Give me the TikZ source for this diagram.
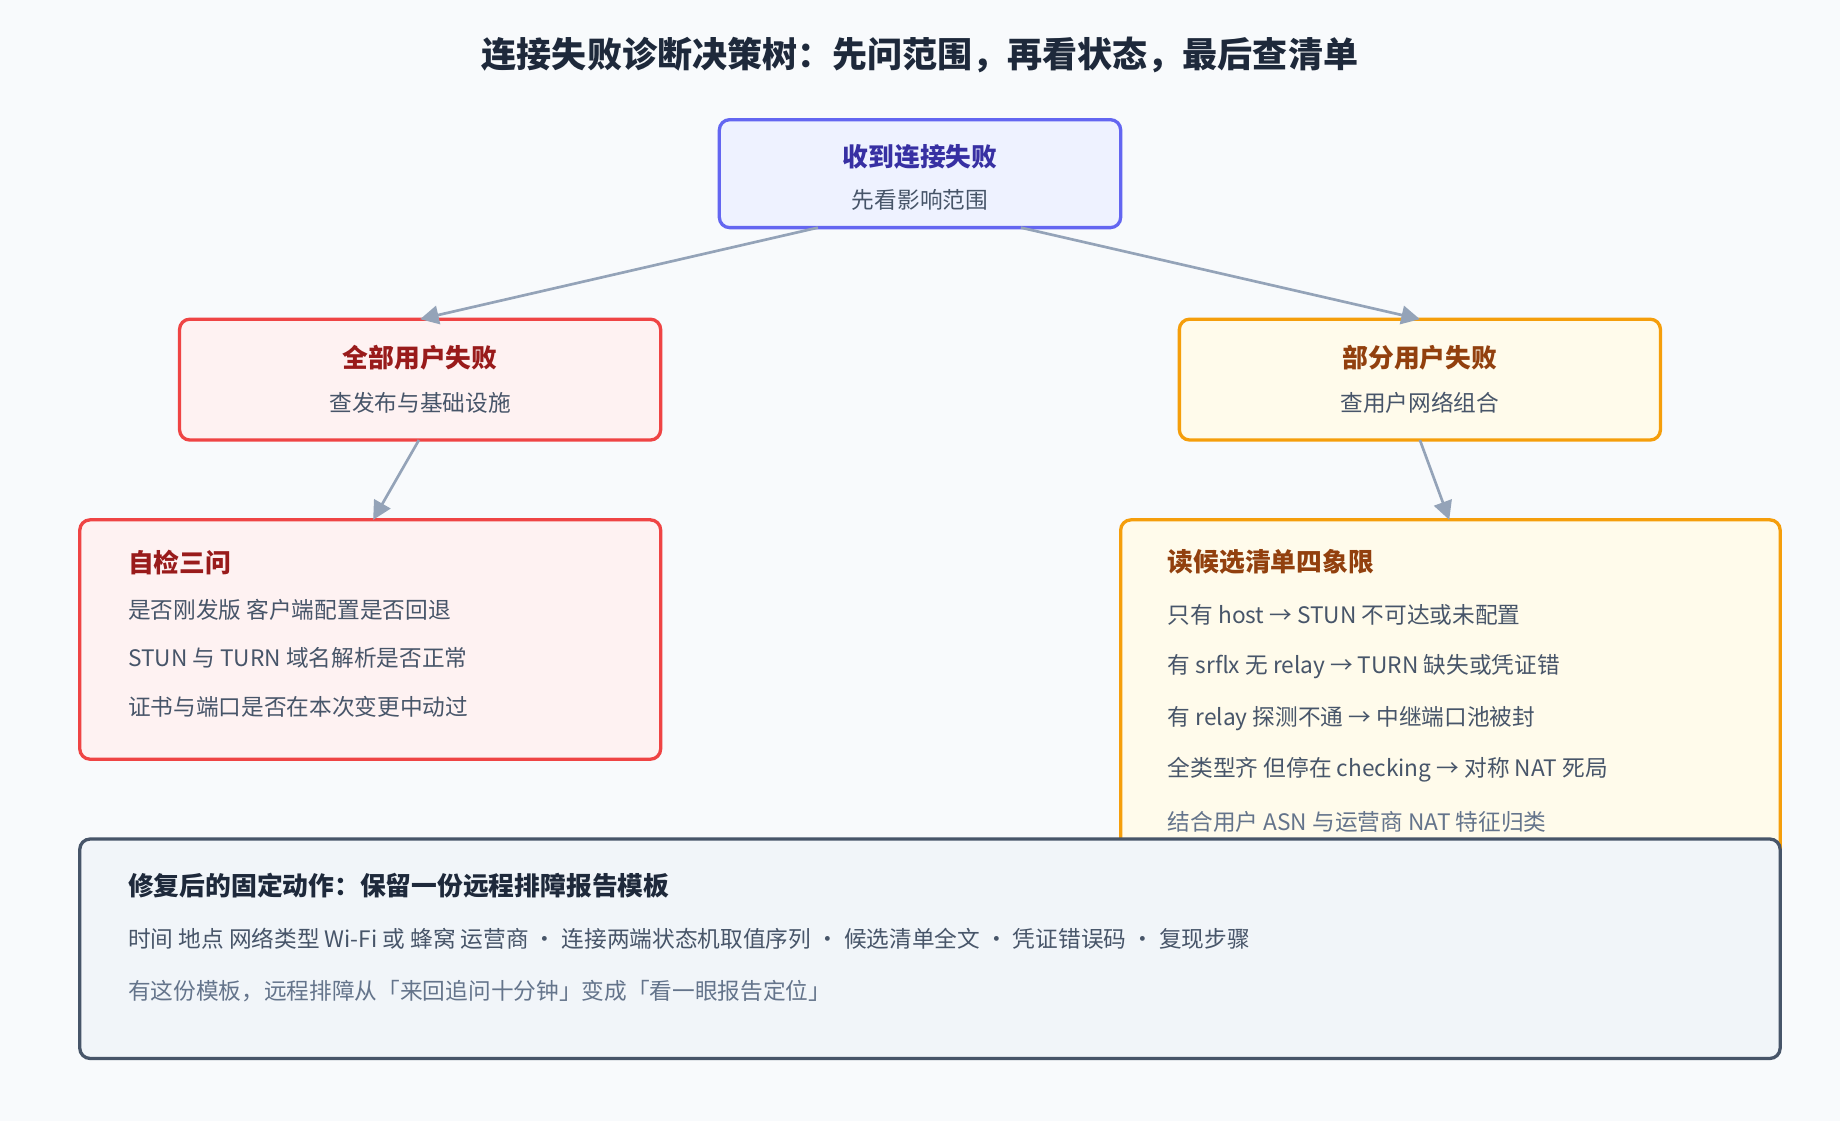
\documentclass[tikz,border=0pt]{standalone}
\usepackage{fontspec}
\setmainfont{Noto Sans CJK SC}
\usetikzlibrary{arrows.meta,positioning}
\definecolor{hintergrund}{HTML}{F8FAFC}
\definecolor{titelfarbe}{HTML}{1E293B}
\definecolor{textgrau}{HTML}{475569}
\definecolor{hellgrau}{HTML}{64748B}
\definecolor{pfeilgrau}{HTML}{94A3B8}
\definecolor{indigo}{HTML}{6366F1}
\definecolor{indigofill}{HTML}{EEF2FF}
\definecolor{indigotext}{HTML}{3730A3}
\definecolor{rot}{HTML}{EF4444}
\definecolor{rotfill}{HTML}{FEF2F2}
\definecolor{dunkelrot}{HTML}{991B1B}
\definecolor{orange}{HTML}{F59E0B}
\definecolor{orangefill}{HTML}{FFFBEB}
\definecolor{braun}{HTML}{92400E}
\definecolor{schiefer}{HTML}{475569}
\definecolor{schieferfill}{HTML}{F1F5F9}
\tikzset{
  kasten/.style={rounded corners=5pt, line width=1.6pt},
  kopf/.style={font=\bfseries\fontsize{12.5}{14}\selectfont, anchor=center},
  unter/.style={text=textgrau, font=\fontsize{11}{13}\selectfont, anchor=center},
  zeile/.style={text=textgrau, font=\fontsize{11}{13}\selectfont, anchor=west},
  pfeil/.style={pfeilgrau, line width=1.3pt, -{Triangle[length=9pt,width=9pt]}}
}
\begin{document}
\begin{tikzpicture}[x=0.02cm, y=-0.02cm]
    % Hintergrund
    \fill[hintergrund] (0,0) rectangle (1568,955);
    \useasboundingbox (0,0) rectangle (1568,955);

    % Titel
    \node[text=titelfarbe, font=\bfseries\fontsize{17}{20}\selectfont] (titel) at (784,47) {连接失败诊断决策树：先问范围，再看状态，最后查清单};

    % Wurzel
    \draw[kasten, draw=indigo, fill=indigofill] (613,102) rectangle (955,194);
    \node[kopf, text=indigotext] (wurzel) at (784,134) {收到连接失败};
    \node[unter] (wurzelsub) at (784,170) {先看影响范围};

    % Zweite Ebene
    \draw[kasten, draw=rot, fill=rotfill] (153,272) rectangle (563,375);
    \node[kopf, text=dunkelrot] (alle) at (358,305) {全部用户失败};
    \node[unter] (allesub) at (358,343) {查发布与基础设施};

    \draw[kasten, draw=orange, fill=orangefill] (1005,272) rectangle (1415,375);
    \node[kopf, text=braun] (teil) at (1210,305) {部分用户失败};
    \node[unter] (teilsub) at (1210,343) {查用户网络组合};

    % Details links
    \draw[kasten, draw=rot, fill=rotfill] (68,443) rectangle (563,647);
    \node[kopf, text=dunkelrot, anchor=west] (selbst) at (103,479) {自检三问};
    \node[zeile] (s1) at (103,520) {是否刚发版 客户端配置是否回退};
    \node[zeile] (s2) at (103,561) {STUN 与 TURN 域名解析是否正常};
    \node[zeile] (s3) at (103,602) {证书与端口是否在本次变更中动过};

    % Details rechts
    \draw[kasten, draw=orange, fill=orangefill] (955,443) rectangle (1517,760);
    \node[kopf, text=braun, anchor=west] (liste) at (989,479) {读候选清单四象限};
    \node[zeile] (l1) at (989,524) {只有 host → STUN 不可达或未配置};
    \node[zeile] (l2) at (989,568) {有 srflx 无 relay → TURN 缺失或凭证错};
    \node[zeile] (l3) at (989,612) {有 relay 探测不通 → 中继端口池被封};
    \node[zeile] (l4) at (989,656) {全类型齐 但停在 checking → 对称 NAT 死局};
    \node[zeile, text=hellgrau] (l5) at (989,700) {结合用户 ASN 与运营商 NAT 特征归类};

    % Pfeile
    \coordinate (a1) at (697,194); \coordinate (b1) at (358,272);
    \coordinate (a2) at (870,194); \coordinate (b2) at (1210,272);
    \coordinate (a3) at (357,375); \coordinate (b3) at (318,443);
    \coordinate (a4) at (1210,375); \coordinate (b4) at (1235,443);
    \draw[pfeil] (a1) -- (b1);
    \draw[pfeil] (a2) -- (b2);
    \draw[pfeil] (a3) -- (b3);
    \draw[pfeil] (a4) -- (b4);

    % Unten
    \draw[kasten, draw=schiefer, fill=schieferfill] (68,715) rectangle (1517,902);
    \node[kopf, text=titelfarbe, anchor=west] (vorlage) at (103,755) {修复后的固定动作：保留一份远程排障报告模板};
    \node[zeile] (v1) at (103,800) {时间 地点 网络类型 Wi-Fi 或 蜂窝 运营商 · 连接两端状态机取值序列 · 候选清单全文 · 凭证错误码 · 复现步骤};
    \node[zeile, text=hellgrau] (v2) at (103,845) {有这份模板，远程排障从「来回追问十分钟」变成「看一眼报告定位」};
\end{tikzpicture}
\end{document}
